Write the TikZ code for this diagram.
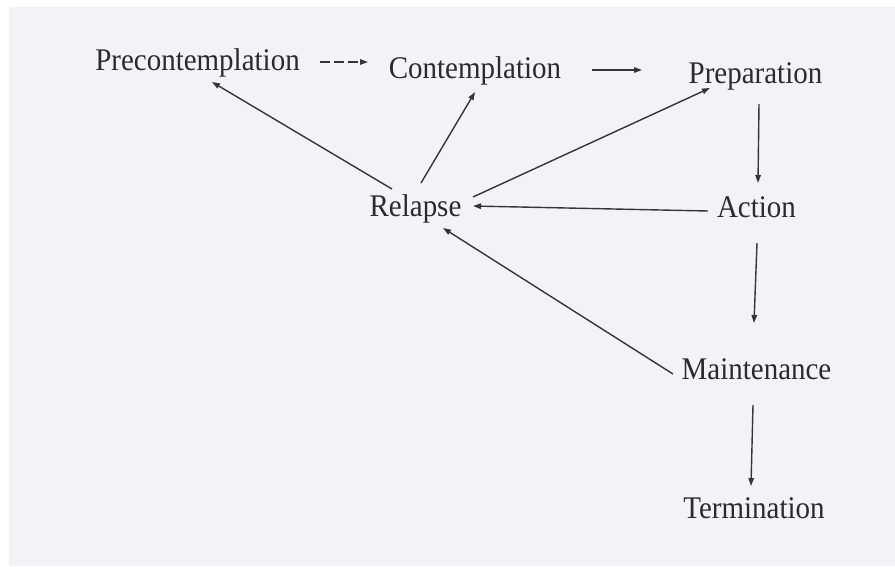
\documentclass[tikz,border=0pt]{standalone}
\usepackage{fontspec}
\setmainfont[FakeStretch=0.92]{Liberation Serif}
\usetikzlibrary{arrows.meta,calc}
\definecolor{paper}{HTML}{F3F2F7}
\definecolor{ink}{HTML}{2B2B2B}
\definecolor{wire}{HTML}{353535}
\begin{document}
\begin{tikzpicture}[x=1pt,y=-1pt,
  stage/.style={anchor=base,inner sep=0pt,text=ink,font=\fontsize{31.5}{36}\selectfont},
  link/.style={draw=wire,line width=1.4pt,-{Triangle[length=8pt,width=5.5pt]}},
  dashlink/.style={link,dash pattern=on 10pt off 4pt}]
  % page and scanned sheet
  \useasboundingbox (0,0) rectangle (895,566);
  \fill[paper] (9,7) rectangle (895,566);

  % stages of change
  \node[stage] (pre)  at (197.5,70)  {Precontemplation};
  \node[stage] (con)  at (475,78)    {Contemplation};
  \node[stage] (prep) at (755.5,83)  {Preparation};
  \node[stage] (rel)  at (415.5,216) {Relapse};
  \node[stage] (act)  at (756.5,217) {Action};
  \node[stage] (mai)  at (756.5,379) {Maintenance};
  \node[stage] (ter)  at (754,518)   {Termination};

  % forward path
  \draw[dashlink] ($(pre.base)+(122.5,-8)$) -- ($(con.base)+(-107,-16)$);
  \draw[link] ($(con.base)+(117,-8)$) -- ($(prep.base)+(-113.5,-13)$);
  \draw[link] ($(prep.base)+(3.5,21)$) -- ($(act.base)+(1.5,-34)$);
  \draw[link] ($(act.base)+(0.5,26)$) -- ($(mai.base)+(-2.5,-56)$);
  \draw[link] ($(mai.base)+(-3.5,26)$) -- ($(ter.base)+(-3,-32)$);

  % into relapse
  \draw[link] ($(act.base)+(-48.5,-6)$) -- ($(rel.base)+(57.5,-10)$);
  \draw[link] ($(mai.base)+(-83.5,-5)$) -- ($(rel.base)+(27.5,12)$);

  % out of relapse
  \draw[link] ($(rel.base)+(-23.5,-27)$) -- ($(pre.base)+(14.5,12)$);
  \draw[link] ($(rel.base)+(5.5,-33)$) -- ($(con.base)+(0,14)$);
  \draw[link] ($(rel.base)+(57.5,-19)$) -- ($(prep.base)+(-45.5,5)$);
\end{tikzpicture}
\end{document}
